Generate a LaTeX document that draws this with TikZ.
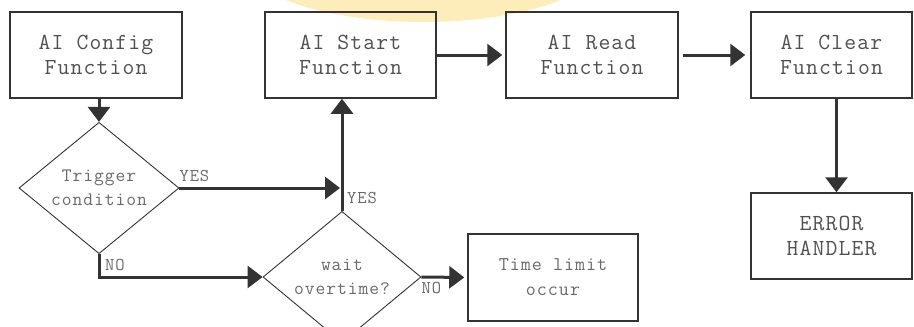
\documentclass[tikz,border=0pt]{standalone}
\usepackage{fontspec}
\newfontfamily\cour{Latin Modern Mono}[LetterSpace=5]
\usetikzlibrary{shapes.geometric,arrows.meta,calc}
\definecolor{ink}{HTML}{333333}
\definecolor{txt}{HTML}{505050}
\definecolor{txtlight}{HTML}{6A6A6A}
\definecolor{glow}{HTML}{FCEDBB}

\begin{document}
\begin{tikzpicture}[x=1pt,y=-1pt,
  fnbox/.style={draw=ink,line width=1.5pt,minimum width=172pt,minimum height=86pt,
    inner sep=0pt,align=center,font=\fontsize{23}{25}\selectfont\cour,text=txt},
  decision/.style={diamond,draw=ink,line width=0.9pt,inner sep=0pt,align=center,
    font=\fontsize{19}{24}\selectfont\cour,text=txtlight},
  flow/.style={draw=ink,line width=3pt,-{Triangle[length=15pt,width=22pt]}},
  tag/.style={inner sep=0pt,font=\fontsize{18}{18}\selectfont\cour,text=txtlight}]

% page frame
\clip (0,0) rectangle (914,327);
\fill[white] (0,0) rectangle (914,327);

% soft logo arc at the top edge
\fill[glow] (423,-38) ellipse [x radius=177, y radius=60];

% function blocks
\node[fnbox] (cfg)   at (96,55)    {AI Config\\Function};
\node[fnbox,minimum width=171pt] (start) at (350.5,55) {AI Start\\Function};
\node[fnbox] (read)  at (592,55)   {AI Read\\Function};
\node[fnbox,minimum width=161pt] (clear) at (831.5,55) {AI Clear\\Function};
\node[fnbox,minimum width=161pt] (err)   at (831.5,236) {ERROR\\HANDLER};
\node[fnbox,minimum width=170pt,minimum height=87pt,
      font=\fontsize{19.5}{25}\selectfont\cour,text=txtlight] (tlim) at (553,277.5) {Time limit\\occur};

% decisions
\node[decision,minimum width=160pt,minimum height=105pt] (trig) at (99,188) {Trigger\\condition};
\node[decision,minimum width=158pt,minimum height=106pt] (wait) at (342,277) {wait\\overtime?};

% connectors
\draw[flow] (trig.north |- cfg.south) -- (trig.north);
\draw[flow] (trig.east) -- ($(trig.east -| wait.north)+(-2,0)$);
\draw[flow] (wait.north) -- (wait.north |- start.south);
\draw[flow] (trig.south) |- (wait.west);
\draw[flow,shorten >=3pt] (wait.east) -- (tlim.west);
\draw[flow,shorten >=3pt] (start.east) -- (read.west);
\draw[flow,shorten <=4pt,shorten >=5pt] (read.east) -- (clear.west);
\draw[flow] ([xshift=5pt]clear.south) -- ([xshift=5pt]err.north);

% branch labels
\node[tag,anchor=south west] (yes1) at ([yshift=6pt]trig.east) {YES};
\node[tag,anchor=south west] (yes2) at ([xshift=5pt,yshift=7pt]wait.north) {YES};
\node[tag,anchor=north west] (no1)  at ([xshift=6pt,yshift=-5pt]trig.south) {NO};
\node[tag,anchor=north west] (no2)  at ([yshift=-5pt]wait.east) {NO};
\end{tikzpicture}
\end{document}
